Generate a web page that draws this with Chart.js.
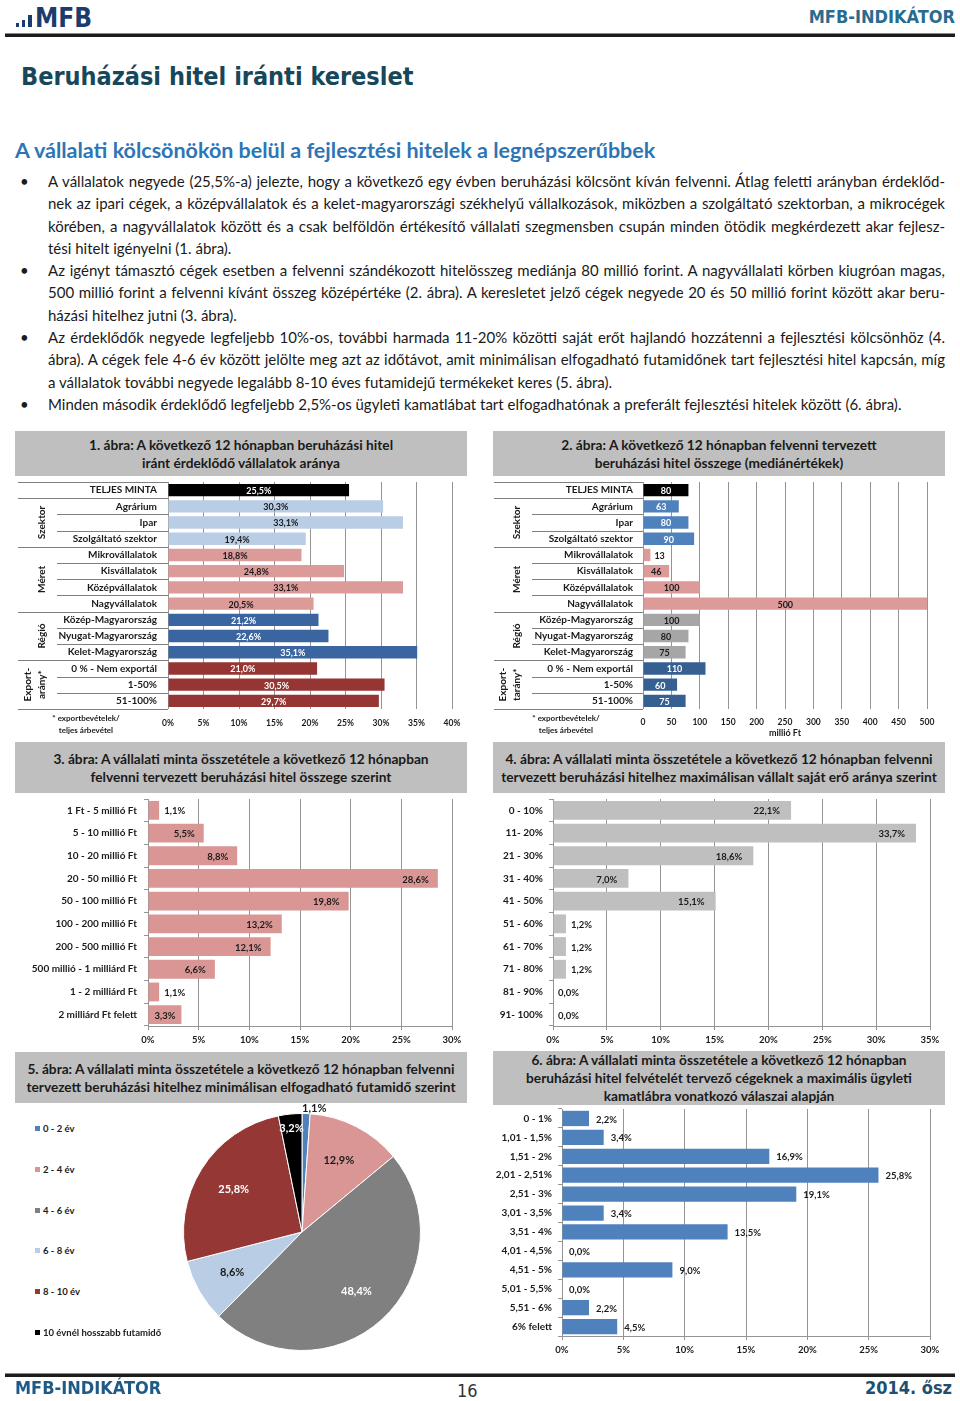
<!DOCTYPE html>
<html lang="hu">
<head>
<meta charset="utf-8">
<title>Beruházási hitel iránti kereslet</title>
<script src="https://cdn.jsdelivr.net/npm/chart.js@4.4.1/dist/chart.umd.min.js"></script>
<style>
  body { margin: 0; background: #fff; }
  #page { position: relative; width: 960px; height: 1401px; overflow: hidden; font-family: Lato, sans-serif; color: #1a1a1a; }
  .abs { position: absolute; white-space: nowrap; }
  .cond { font-family: "DejaVu Sans Condensed", "DejaVu Sans", sans-serif; font-weight: bold; font-stretch: condensed; }
  .rule { position: absolute; left: 5px; width: 950px; height: 3px; background: #1c1c1c; border-top: 1px solid #8a8a8a; }
  .box { position: absolute; width: 452px; background: #bfbfbf; display: flex; align-items: center; justify-content: center; text-align: center; font-weight: bold; font-size: 13.7px; line-height: 18px; color: #1a1a1a; }
  .body-text { position: absolute; left: 48px; top: 170px; width: 897px; font-size: 15px; line-height: 22.3px; }
  .body-text p { margin: 0; position: relative; }
  .body-text p::before { content: "•"; position: absolute; left: -28px; }
  .body-text span { display: block; text-align: justify; text-align-last: justify; }
  .body-text span.last { text-align-last: left; }
  canvas { position: absolute; }
  .note { position: absolute; width: 84px; font-size: 8px; font-weight: bold; text-align: center; line-height: 12px; }
  .leg { position: absolute; left: 35px; font-size: 9.5px; font-weight: bold; line-height: 12px; white-space: nowrap; }
  .leg i { display: inline-block; width: 5px; height: 5px; margin-right: 3px; vertical-align: 1px; }
</style>
</head>
<body>
<div id="page">
  <!-- header -->
  <div class="abs" style="left:16px;top:23px;width:3px;height:4px;background:#1d3c6e"></div>
  <div class="abs" style="left:22px;top:20px;width:3px;height:7px;background:#1d3c6e"></div>
  <div class="abs" style="left:28px;top:15px;width:4px;height:12px;background:#1d3c6e"></div>
  <div class="abs cond" style="left:35px;top:3px;font-size:26px;color:#1d3c6e">MFB</div>
  <div class="abs cond" style="right:5px;top:6px;font-size:18px;color:#2a6c8e">MFB-INDIKÁTOR</div>
  <div class="rule" style="top:33px"></div>

  <div class="abs cond" style="left:21px;top:62px;font-size:25px;color:#17475a">Beruházási hitel iránti kereslet</div>
  <div class="abs" style="left:15px;top:137px;font-size:21.5px;font-weight:bold;color:#2e75b6">A vállalati kölcsönökön belül a fejlesztési hitelek a legnépszerűbbek</div>

  <div class="body-text">
    <p><span>A vállalatok negyede (25,5%-a) jelezte, hogy a következő egy évben beruházási kölcsönt kíván felvenni. Átlag feletti arányban érdeklőd-</span><span>nek az ipari cégek, a középvállalatok és a kelet-magyarországi székhelyű vállalkozások, miközben a szolgáltató szektorban, a mikrocégek</span><span>körében, a nagyvállalatok között és a csak belföldön értékesítő vállalati szegmensben csupán minden ötödik megkérdezett akar fejlesz-</span><span class="last">tési hitelt igényelni (1. ábra).</span></p>
    <p><span>Az igényt támasztó cégek esetben a felvenni szándékozott hitelösszeg mediánja 80 millió forint. A nagyvállalati körben kiugróan magas,</span><span>500 millió forint a felvenni kívánt összeg középértéke (2. ábra). A keresletet jelző cégek negyede 20 és 50 millió forint között akar beru-</span><span class="last">házási hitelhez jutni (3. ábra).</span></p>
    <p><span>Az érdeklődők negyede legfeljebb 10%-os, további harmada 11-20% közötti saját erőt hajlandó hozzátenni a fejlesztési kölcsönhöz (4.</span><span>ábra). A cégek fele 4-6 év között jelölte meg azt az időtávot, amit minimálisan elfogadható futamidőnek tart fejlesztési hitel kapcsán, míg</span><span class="last">a vállalatok további negyede legalább 8-10 éves futamidejű termékeket keres (5. ábra).</span></p>
    <p><span class="last">Minden második érdeklődő legfeljebb 2,5%-os ügyleti kamatlábat tart elfogadhatónak a preferált fejlesztési hitelek között (6. ábra).</span></p>
  </div>

  <!-- chart titles -->
  <div class="box" style="left:15px;top:431px;height:45px">1. ábra: A következő 12 hónapban beruházási hitel<br>iránt érdeklődő vállalatok aránya</div>
  <div class="box" style="left:493px;top:431px;height:45px">2. ábra: A következő 12 hónapban felvenni tervezett<br>beruházási hitel összege (mediánértékek)</div>
  <div class="box" style="left:15px;top:742px;height:51px">3. ábra: A vállalati minta összetétele a következő 12 hónapban<br>felvenni tervezett beruházási hitel összege szerint</div>
  <div class="box" style="left:493px;top:742px;height:51px">4. ábra: A vállalati minta összetétele a következő 12 hónapban felvenni<br>tervezett beruházási hitelhez maximálisan vállalt saját erő aránya szerint</div>
  <div class="box" style="left:15px;top:1052px;height:51px">5. ábra: A vállalati minta összetétele a következő 12 hónapban felvenni<br>tervezett beruházási hitelhez minimálisan elfogadható futamidő szerint</div>
  <div class="box" style="left:493px;top:1051px;height:54px">6. ábra: A vállalati minta összetétele a következő 12 hónapban<br>beruházási hitel felvételét tervező cégeknek a maximális ügyleti<br>kamatlábra vonatkozó válaszai alapján</div>

  <canvas id="c1" width="452" height="262" style="left:15px;top:478px"></canvas>
  <canvas id="c2" width="452" height="262" style="left:493px;top:478px"></canvas>
  <canvas id="c3" width="452" height="255" style="left:15px;top:795px"></canvas>
  <canvas id="c4" width="452" height="255" style="left:493px;top:795px"></canvas>
  <canvas id="c5" width="285" height="260" style="left:160px;top:1100px"></canvas>
  <canvas id="c6" width="452" height="255" style="left:493px;top:1105px"></canvas>

  <div class="note" style="left:44px;top:712px">* exportbevételek/<br>teljes árbevétel</div>
  <div class="note" style="left:524px;top:712px">* exportbevételek/<br>teljes árbevétel</div>
  <div id="legend5"></div>

  <!-- footer -->
  <div class="rule" style="top:1373px"></div>
  <div class="abs cond" style="left:15px;top:1377px;font-size:18px;color:#1f5a86">MFB-INDIKÁTOR</div>
  <div class="abs" style="left:457px;top:1380px;font-family:'DejaVu Sans Condensed','DejaVu Sans';font-stretch:condensed;font-size:18px;color:#333">16</div>
  <div class="abs cond" style="right:8px;top:1377px;font-size:18px;color:#1f4f6f">2014. ősz</div>
</div>

<script>
// 1-2. ábra: rows shared by both charts
const rowLabels = ['TELJES MINTA', 'Agrárium', 'Ipar', 'Szolgáltató szektor', 'Mikrovállalatok', 'Kisvállalatok',
  'Középvállalatok', 'Nagyvállalatok', 'Közép-Magyarország', 'Nyugat-Magyarország', 'Kelet-Magyarország',
  '0 % - Nem exportál', '1-50%', '51-100%'];
const rowGroup = [0, 1, 1, 1, 2, 2, 2, 2, 3, 3, 3, 4, 4, 4];
const groupStarts = [1, 4, 8, 11];
const groupEnds = [3, 7, 10, 13];
const groupNames1 = [['Szektor'], ['Méret'], ['Régió'], ['Export-', 'arány*']];
const groupNames2 = [['Szektor'], ['Méret'], ['Régió'], ['Export-', 'tarány*']];

const interestShare = [25.5, 30.3, 33.1, 19.4, 18.8, 24.8, 33.1, 20.5, 21.2, 22.6, 35.1, 21.0, 30.5, 29.7];
const interestTicks = [0, 5, 10, 15, 20, 25, 30, 35, 40];

const medianLoan = [80, 63, 80, 90, 13, 46, 100, 500, 100, 80, 75, 110, 60, 75];
const medianTicks = [0, 50, 100, 150, 200, 250, 300, 350, 400, 450, 500];

// 3. ábra
const loanBands = ['1 Ft - 5 millió Ft', '5 - 10 millió Ft', '10 - 20 millió Ft', '20 - 50 millió Ft', '50 - 100 millió Ft',
  '100 - 200 millió Ft', '200 - 500 millió Ft', '500 millió - 1 milliárd Ft', '1 - 2 milliárd Ft', '2 milliárd Ft felett'];
const loanBandShare = [1.1, 5.5, 8.8, 28.6, 19.8, 13.2, 12.1, 6.6, 1.1, 3.3];
const loanBandTicks = [0, 5, 10, 15, 20, 25, 30];

// 4. ábra
const ownFundBands = ['0 - 10%', '11- 20%', '21 - 30%', '31 - 40%', '41 - 50%', '51 - 60%', '61 - 70%', '71 - 80%', '81 - 90%', '91- 100%'];
const ownFundShare = [22.1, 33.7, 18.6, 7.0, 15.1, 1.2, 1.2, 1.2, 0.0, 0.0];
const ownFundTicks = [0, 5, 10, 15, 20, 25, 30, 35];

// 5. ábra
const tenorLabels = ['0 - 2 év', '2 - 4 év', '4 - 6 év', '6 - 8 év', '8 - 10 év', '10 évnél hosszabb futamidő'];
const tenorShare = [1.1, 12.9, 48.4, 8.6, 25.8, 3.2];

// 6. ábra
const rateBands = ['0 - 1%', '1,01 - 1,5%', '1,51 - 2%', '2,01 - 2,51%', '2,51 - 3%', '3,01 - 3,5%', '3,51 - 4%',
  '4,01 - 4,5%', '4,51 - 5%', '5,01 - 5,5%', '5,51 - 6%', '6% felett'];
const rateShare = [2.2, 3.4, 16.9, 25.8, 19.1, 3.4, 13.5, 0.0, 9.0, 0.0, 2.2, 4.5];
const rateTicks = [0, 5, 10, 15, 20, 25, 30];

const DARK = '#1a1a1a';
const pct = v => v.toFixed(1).replace('.', ',') + '%';

Chart.defaults.font.family = 'Lato, sans-serif';
Chart.defaults.font.weight = 'bold';
Chart.defaults.color = DARK;

// value labels on bars: center / inside end / outside
const barLabels = {
  id: 'barLabels',
  afterDatasetsDraw(chart, args, o) {
    const ctx = chart.ctx;
    const vals = chart.data.datasets[0].data;
    ctx.save();
    ctx.font = `bold ${o.size}px Lato`;
    ctx.textBaseline = 'middle';
    chart.getDatasetMeta(0).data.forEach((bar, i) => {
      const txt = o.format(vals[i]);
      const w = ctx.measureText(txt).width;
      const len = bar.x - bar.base;
      let x, align, color = o.inColor ? o.inColor(i) : DARK;
      if (o.mode === 'outside' || len < w + 4) {
        x = bar.x + o.offset; align = 'left'; color = DARK;
      } else if (o.mode === 'end' && len >= w + 2 * o.inset) {
        x = bar.x - o.inset; align = 'right';
      } else {
        x = (bar.x + bar.base) / 2; align = 'center';
      }
      ctx.textAlign = align;
      ctx.fillStyle = color;
      ctx.fillText(txt, x, bar.y + 1);
    });
    ctx.restore();
  }
};

// grouping table to the left of charts 1 and 2
const groupTable = {
  id: 'groupTable',
  afterDraw(chart, args, o) {
    if (!o.names) return;
    const {ctx, chartArea} = chart;
    const y = chart.scales.y;
    const n = chart.data.labels.length;
    const half = (y.getPixelForValue(1) - y.getPixelForValue(0)) / 2;
    ctx.save();
    ctx.strokeStyle = '#7f7f7f';
    ctx.lineWidth = 1;
    for (let i = 0; i <= n; i++) {
      const yy = Math.round(i < n ? y.getPixelForValue(i) - half : y.getPixelForValue(n - 1) + half) + 0.5;
      const full = i === 0 || i === n || groupStarts.includes(i);
      ctx.beginPath();
      ctx.moveTo(full ? o.x0 : o.x1, yy);
      ctx.lineTo(chartArea.left, yy);
      ctx.stroke();
    }
    ctx.font = 'bold 10px Lato';
    ctx.fillStyle = DARK;
    ctx.textAlign = 'center';
    ctx.textBaseline = 'middle';
    o.names.forEach((lines, g) => {
      const cy = (y.getPixelForValue(groupStarts[g]) + y.getPixelForValue(groupEnds[g])) / 2;
      lines.forEach((ln, j) => {
        const cx = o.labelX - (lines.length - 1 - j) * 14;
        ctx.save();
        ctx.translate(cx, cy);
        ctx.rotate(-Math.PI / 2);
        ctx.fillText(ln, 0, 0);
        ctx.restore();
      });
    });
    ctx.restore();
  }
};

function barChart(id, labels, values, colors, c) {
  return new Chart(document.getElementById(id), {
    type: 'bar',
    data: {
      labels: labels,
      datasets: [{ data: values, backgroundColor: colors, barPercentage: c.barPct, categoryPercentage: 1 }]
    },
    options: {
      indexAxis: 'y',
      responsive: false,
      animation: false,
      layout: { padding: c.pad },
      plugins: {
        legend: { display: false },
        tooltip: { enabled: false },
        barLabels: c.labels,
        groupTable: c.table || {}
      },
      scales: {
        x: {
          min: 0, max: c.ticks[c.ticks.length - 1],
          afterBuildTicks: s => { s.ticks = c.ticks.map(v => ({ value: v })); },
          afterFit: s => { s.height = c.xH; s.paddingLeft = 0; s.paddingRight = 0; },
          ticks: { callback: c.tickFmt, font: { size: c.tickSize }, padding: c.xPad, maxRotation: 0, autoSkip: false },
          grid: { color: '#949494', drawTicks: c.axis, tickLength: 4 },
          border: { display: c.axis, color: '#949494' },
          title: c.xTitle || { display: false }
        },
        y: {
          afterFit: s => { s.width = c.yW; s.paddingTop = 0; s.paddingBottom = 0; },
          ticks: { font: { size: 10 }, padding: c.yPad, autoSkip: false },
          grid: { display: c.axis, drawOnChartArea: false, drawTicks: c.axis, tickLength: 4, color: '#949494' },
          border: { display: c.axis, color: '#949494' }
        }
      }
    },
    plugins: [barLabels, groupTable]
  });
}

// 1. ábra
const fill1 = ['#000000', '#b9cde5', '#dc9a99', '#3a65a0', '#963634'];
const text1 = ['#ffffff', DARK, DARK, '#ffffff', '#ffffff'];
barChart('c1', rowLabels, interestShare, rowGroup.map(g => fill1[g]), {
  barPct: 0.76, pad: { top: 4, right: 15, left: 0, bottom: 0 }, ticks: interestTicks,
  tickFmt: v => v + '%', tickSize: 8.5, xH: 31, xPad: 9, yW: 153, yPad: 11, axis: false,
  labels: { mode: 'center', size: 9, offset: 4, format: pct, inColor: i => text1[rowGroup[i]] },
  table: { names: groupNames1, x0: 3, x1: 42, labelX: 27 }
});

// 2. ábra
const fill2 = ['#000000', '#4f81bd', '#dc9a99', '#a6a6a6', '#366092'];
const text2 = ['#ffffff', '#ffffff', DARK, DARK, '#ffffff'];
barChart('c2', rowLabels, medianLoan, rowGroup.map(g => fill2[g]), {
  barPct: 0.76, pad: { top: 4, right: 18, left: 0, bottom: 0 }, ticks: medianTicks,
  tickFmt: v => String(v), tickSize: 8.5, xH: 31, xPad: 8, yW: 150, yPad: 10, axis: false,
  xTitle: { display: true, text: 'millió Ft', font: { size: 9 }, padding: { top: 0, bottom: 2 } },
  labels: { mode: 'center', size: 9, offset: 4, format: v => String(v), inColor: i => text2[rowGroup[i]] },
  table: { names: groupNames2, x0: 1, x1: 39, labelX: 24 }
});

// 3. ábra
barChart('c3', loanBands, loanBandShare, '#d99694', {
  barPct: 0.83, pad: { top: 4, right: 15, left: 0, bottom: 0 }, ticks: loanBandTicks,
  tickFmt: v => v + '%', tickSize: 9.5, xH: 24, xPad: 4, yW: 133, yPad: 7, axis: true,
  labels: { mode: 'end', size: 9.5, inset: 9, offset: 5, format: pct }
});

// 4. ábra
barChart('c4', ownFundBands, ownFundShare, '#bfbfbf', {
  barPct: 0.83, pad: { top: 4, right: 15, left: 0, bottom: 0 }, ticks: ownFundTicks,
  tickFmt: v => v + '%', tickSize: 9.5, xH: 24, xPad: 4, yW: 60, yPad: 6, axis: true,
  labels: { mode: 'end', size: 9.5, inset: 11, offset: 5, format: pct }
});

// 6. ábra
barChart('c6', rateBands, rateShare, '#4f81bd', {
  barPct: 0.81, pad: { top: 4, right: 15, left: 0, bottom: 0 }, ticks: rateTicks,
  tickFmt: v => v + '%', tickSize: 9.5, xH: 24, xPad: 4, yW: 69, yPad: 6, axis: true,
  labels: { mode: 'outside', size: 9.5, offset: 7, format: pct }
});

// 5. ábra - pie
const pieColors = ['#4f81bd', '#da9694', '#808080', '#b9cde5', '#953735', '#000000'];
const pieText = [DARK, DARK, '#ffffff', DARK, '#ffffff', '#ffffff'];

const pieLabels = {
  id: 'pieLabels',
  afterDatasetsDraw(chart) {
    const ctx = chart.ctx;
    const vals = chart.data.datasets[0].data;
    ctx.save();
    ctx.font = 'bold 11px Lato';
    ctx.textAlign = 'center';
    ctx.textBaseline = 'middle';
    chart.getDatasetMeta(0).data.forEach((arc, i) => {
      const v = vals[i];
      const mid = (arc.startAngle + arc.endAngle) / 2;
      const f = v < 2 ? 1.04 : v < 5 ? 0.88 : 0.68;
      const r = arc.outerRadius * f;
      ctx.fillStyle = pieText[i];
      ctx.fillText(pct(v), arc.x + Math.cos(mid) * r + (v < 2 ? 8 : 0), arc.y + Math.sin(mid) * r);
    });
    ctx.restore();
  }
};

new Chart(document.getElementById('c5'), {
  type: 'pie',
  data: {
    labels: tenorLabels,
    datasets: [{ data: tenorShare, backgroundColor: pieColors, borderColor: '#ffffff', borderWidth: 1 }]
  },
  options: {
    responsive: false,
    animation: false,
    layout: { padding: { left: 23, right: 24, top: 13, bottom: 9 } },
    plugins: { legend: { display: false }, tooltip: { enabled: false } }
  },
  plugins: [pieLabels]
});

// legend for the pie
const leg = document.getElementById('legend5');
tenorLabels.forEach((t, i) => {
  const d = document.createElement('div');
  d.className = 'leg';
  d.style.top = (1123 + i * 40.8) + 'px';
  d.innerHTML = `<i style="background:${pieColors[i]}"></i>${t}`;
  leg.appendChild(d);
});
</script>
</body>
</html>
